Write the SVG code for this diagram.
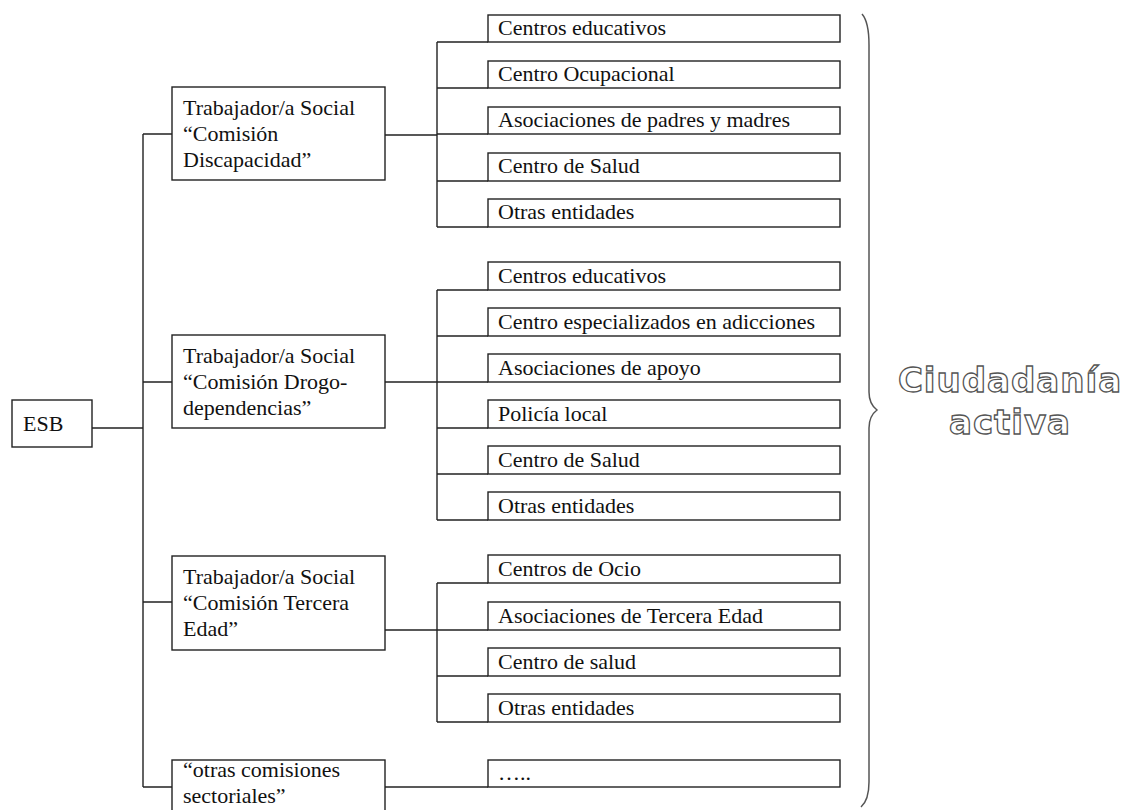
<svg xmlns="http://www.w3.org/2000/svg" width="1134" height="810" viewBox="0 0 1134 810">
<style>
.box{fill:#fff;stroke:#222;stroke-width:1.4}
.ln{fill:none;stroke:#222;stroke-width:1.4}
.t{font-family:"Liberation Serif","Times New Roman",serif;font-size:22px;fill:#111}
.big{font-family:"DejaVu Sans","Liberation Sans",sans-serif;font-weight:bold;font-size:34px;fill:#fff;stroke:#555;stroke-width:1.3;text-anchor:middle;letter-spacing:1px}
</style>
<rect width="1134" height="810" fill="#fff"/>
<g id="connectors" class="ln">
<path d="M92 428H143M143 134V787M143 134H172M143 382H172M143 602H172M143 787H172"/>
<path d="M385 135H437M437 42V227M437 42H488M437 88H488M437 134H488M437 181H488M437 227H488"/>
<path d="M385 382H437M437 290V520M437 290H488M437 336H488M437 382H488M437 428H488M437 474H488M437 520H488"/>
<path d="M385 630H437M437 583V722M437 583H488M437 630H488M437 676H488M437 722H488"/>
<path d="M385 787H488"/>
</g>
<g id="esb"><rect class="box" x="12" y="400" width="80" height="47"/><text class="t" x="23" y="431">ESB</text></g>
<g id="ts1"><rect class="box" x="172" y="87" width="213" height="93"/><text class="t" x="183" y="115">Trabajador/a Social</text><text class="t" x="183" y="141">“Comisión</text><text class="t" x="183" y="167">Discapacidad”</text></g>
<g id="ts2"><rect class="box" x="172" y="335" width="213" height="93"/><text class="t" x="183" y="363">Trabajador/a Social</text><text class="t" x="183" y="389">“Comisión Drogo-</text><text class="t" x="183" y="415">dependencias”</text></g>
<g id="ts3"><rect class="box" x="172" y="556" width="213" height="94"/><text class="t" x="183" y="584">Trabajador/a Social</text><text class="t" x="183" y="610">“Comisión Tercera</text><text class="t" x="183" y="636">Edad”</text></g>
<g id="ts4"><rect class="box" x="172" y="760" width="213" height="60"/><text class="t" x="183" y="777">“otras comisiones</text><text class="t" x="183" y="803">sectoriales”</text></g>
<g id="c1a"><rect class="box" x="488" y="15" width="352" height="27"/><text class="t" x="498" y="35">Centros educativos</text></g>
<g id="c1b"><rect class="box" x="488" y="61" width="352" height="27"/><text class="t" x="498" y="81">Centro Ocupacional</text></g>
<g id="c1c"><rect class="box" x="488" y="107" width="352" height="27"/><text class="t" x="498" y="127">Asociaciones de padres y madres</text></g>
<g id="c1d"><rect class="box" x="488" y="153" width="352" height="28"/><text class="t" x="498" y="173">Centro de Salud</text></g>
<g id="c1e"><rect class="box" x="488" y="199" width="352" height="28"/><text class="t" x="498" y="219">Otras entidades</text></g>
<g id="c2a"><rect class="box" x="488" y="262" width="352" height="28"/><text class="t" x="498" y="283">Centros educativos</text></g>
<g id="c2b"><rect class="box" x="488" y="308" width="352" height="28"/><text class="t" x="498" y="329">Centro especializados en adicciones</text></g>
<g id="c2c"><rect class="box" x="488" y="354" width="352" height="28"/><text class="t" x="498" y="375">Asociaciones de apoyo</text></g>
<g id="c2d"><rect class="box" x="488" y="400" width="352" height="28"/><text class="t" x="498" y="421">Policía local</text></g>
<g id="c2e"><rect class="box" x="488" y="446" width="352" height="28"/><text class="t" x="498" y="467">Centro de Salud</text></g>
<g id="c2f"><rect class="box" x="488" y="492" width="352" height="28"/><text class="t" x="498" y="513">Otras entidades</text></g>
<g id="c3a"><rect class="box" x="488" y="555" width="352" height="28"/><text class="t" x="498" y="576">Centros de Ocio</text></g>
<g id="c3b"><rect class="box" x="488" y="602" width="352" height="28"/><text class="t" x="498" y="623">Asociaciones de Tercera Edad</text></g>
<g id="c3c"><rect class="box" x="488" y="648" width="352" height="28"/><text class="t" x="498" y="669">Centro de salud</text></g>
<g id="c3d"><rect class="box" x="488" y="694" width="352" height="28"/><text class="t" x="498" y="715">Otras entidades</text></g>
<g id="c4"><rect class="box" x="488" y="760" width="352" height="27"/><text class="t" x="498" y="780">…..</text></g>
<g id="brace"><path d="M862 14Q869 22 869 45V392Q869 404 877 410Q869 416 869 428V782Q869 800 861 807" fill="none" stroke="#555" stroke-width="1.5"/></g>
<g id="label"><text class="big" x="1010" y="392">Ciudadanía</text><text class="big" x="1010" y="434">activa</text></g>
</svg>
